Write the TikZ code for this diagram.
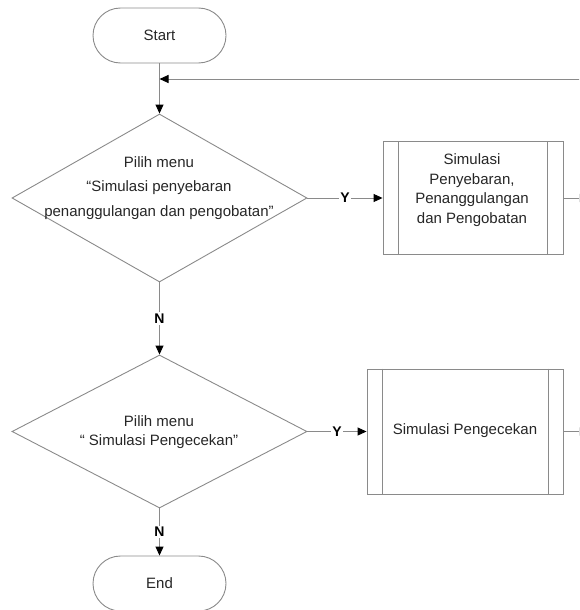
\documentclass[tikz,border=0pt]{standalone}
\usepackage{fontspec}
\setmainfont{Liberation Sans}
\usetikzlibrary{arrows.meta,shapes.geometric}
\definecolor{ln}{HTML}{8A8A8A}
\definecolor{tx}{HTML}{262626}
\begin{document}
\begin{tikzpicture}[x=1pt,y=-1pt,
  every node/.style={font=\fontsize{15}{20}\selectfont, text=tx},
  line/.style={draw=ln, line width=0.9pt},
  arr/.style={line, -{Triangle[length=9pt,width=8pt,color=black]}},
  term/.style={line, rectangle, rounded corners=27.5pt, minimum width=133pt, minimum height=55pt, inner sep=0pt},
  dia/.style={line, diamond, inner sep=0pt},
  proc/.style={line, rectangle, inner sep=0pt},
  lbl/.style={font=\bfseries\fontsize{14}{16}\selectfont, fill=white, inner sep=1.5pt, text=black},
  txt/.style={align=center, inner sep=0pt},
]
\useasboundingbox (0,0) rectangle (579,610);
\clip (0,0) rectangle (579,610);

\node[term] (start) at (159.5,35.5) {Start};
\node[dia, minimum width=295pt, minimum height=168pt] (d1) at (159.5,198) {};
\node[txt, font=\fontsize{15}{24.5}\selectfont] (d1t) at (159,188) {Pilih menu\\“Simulasi penyebaran\\penanggulangan dan pengobatan”};

\node[proc, minimum width=180pt, minimum height=113pt] (b1) at (473,198) {};
\draw[line] ([xshift=16pt]b1.north west) -- ([xshift=16pt]b1.south west);
\draw[line] ([xshift=-16pt]b1.north east) -- ([xshift=-16pt]b1.south east);
\node[txt, font=\fontsize{15}{19.5}\selectfont] (b1t) at (472,190) {Simulasi\\Penyebaran,\\Penanggulangan\\dan Pengobatan};

\node[dia, minimum width=295pt, minimum height=153pt] (d2) at (159.5,431.5) {};
\node[txt, font=\fontsize{15}{19.5}\selectfont] (d2t) at (159,432) {Pilih menu\\“ Simulasi Pengecekan”};

\node[proc, minimum width=196pt, minimum height=125pt] (b2) at (465,431.5) {};
\draw[line] ([xshift=15.5pt]b2.north west) -- ([xshift=15.5pt]b2.south west);
\draw[line] ([xshift=-15.5pt]b2.north east) -- ([xshift=-15.5pt]b2.south east);
\node[txt] (b2t) at (465,431) {Simulasi Pengecekan};

\node[term] (end) at (159.5,583.5) {End};

\coordinate (fbin) at (582,79);
\coordinate (o1) at (588,198);
\coordinate (o2) at (588,431.5);

\draw[arr] (start.south) -- (d1.north);
\draw[arr] (fbin) -- (start.south |- fbin);
\draw[arr] (d1.east) -- node[lbl]{Y} (b1.west);
\draw[arr] (d1.south) -- node[lbl]{N} (d2.north);
\draw[arr] (d2.east) -- node[lbl]{Y} (b2.west);
\draw[arr] (d2.south) -- node[lbl]{N} (end.north);
\draw[arr] (b1.east) -- (o1);
\draw[arr] (b2.east) -- (o2);
\end{tikzpicture}
\end{document}
